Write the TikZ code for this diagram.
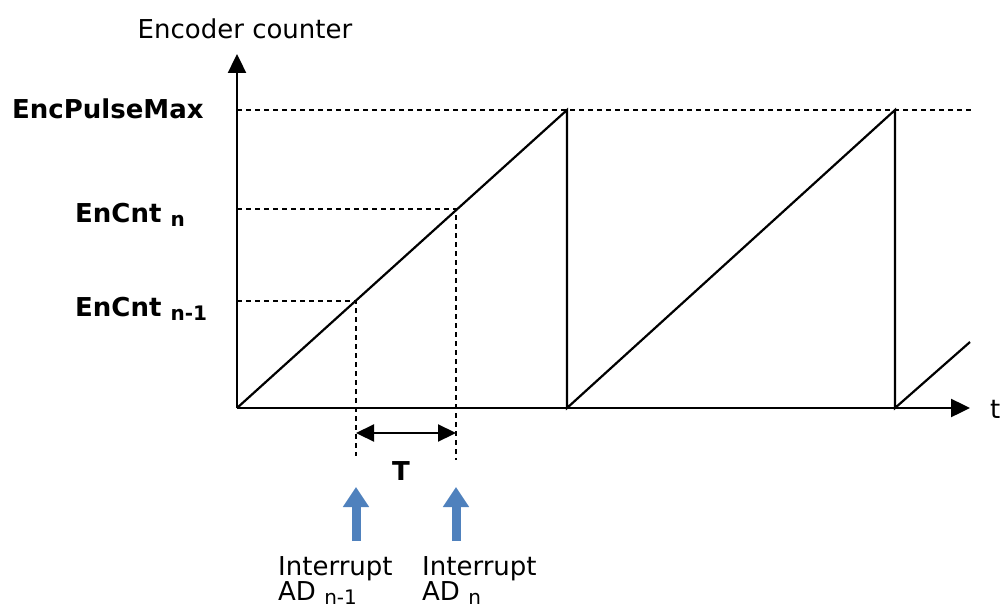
\documentclass[tikz,border=0pt]{standalone}
\usepackage{fontspec}
\setmainfont{DejaVu Sans}
\usetikzlibrary{arrows.meta}
\definecolor{irqblue}{RGB}{79,129,189}
\newcommand{\lowsub}[1]{\raisebox{-4pt}{\fontsize{20}{24}\selectfont #1}}

\begin{document}
\begin{tikzpicture}[
      x=1pt, y=-1pt,
      every node/.style={inner sep=0pt,font=\fontsize{26}{30}\selectfont},
      axis/.style={line width=2.4pt,-{Triangle[length=19pt,width=18pt]}},
      ramp/.style={line width=2.2pt},
      guide/.style={line width=1.2pt,dash pattern=on 5pt off 4pt},
      span/.style={line width=2.2pt,{Triangle[length=18pt,width=17pt]}-{Triangle[length=18pt,width=17pt]}},
      irq/.style={irqblue,line width=9pt,-{Triangle[length=20pt,width=25pt]}},
      lbl/.style={anchor=base west,font=\fontsize{26}{30}\selectfont\bfseries},
      txt/.style={anchor=base west}
    ]
      \useasboundingbox (0,0) rectangle (1008,607);
      % points of the saw tooth
      \coordinate (O) at (237,408);
      \coordinate (ytop) at (237,54);
      \coordinate (xend) at (970,408);
      \coordinate (p1) at (567,110);
      \coordinate (b1) at (567,408);
      \coordinate (p2) at (895,110);
      \coordinate (b2) at (895,408);
      \coordinate (p3) at (970,342);
      \coordinate (maxend) at (972,110);
      \coordinate (e1) at (356,301);
      \coordinate (e2) at (456,209);
      \coordinate (d1) at (356,456);
      \coordinate (d2) at (456,460);
      \coordinate (s1) at (356,433);
      \coordinate (s2) at (456,433);
      % guides
      \draw[guide] (O |- p1) -- (maxend);
      \draw[guide] (O |- e2) -- (e2) -- (d2);
      \draw[guide] (O |- e1) -- (e1) -- (d1);
      % axes
      \draw[axis] (O) -- (ytop);
      \draw[axis] (O) -- (xend);
      % counter
      \draw[ramp] (O) -- (p1) -- (b1) -- (p2) -- (b2) -- (p3);
      \draw[span] (s1) -- (s2);
      \draw[irq] (356,541) -- (356,487);
      \draw[irq] (456,541) -- (456,487);
      % labels
      \node[anchor=base] (ylabel) at (245,39) {Encoder counter};
      \node[txt] (tlabel) at (990,418) {t};
      \node[lbl] (pmax) at (12,118) {EncPulseMax};
      \node[lbl] (cntn) at (75,222) {EnCnt \lowsub{n}};
      \node[lbl] (cntm) at (75,316) {EnCnt \lowsub{n-1}};
      \node[lbl,anchor=base] (period) at (401,480) {T};
      \node[txt] (irqa) at (278,575) {Interrupt};
      \node[txt] (ada) at (278,600) {AD \lowsub{n-1}};
      \node[txt] (irqb) at (422,575) {Interrupt};
      \node[txt] (adb) at (422,600) {AD \lowsub{n}};
\end{tikzpicture}
\end{document}
